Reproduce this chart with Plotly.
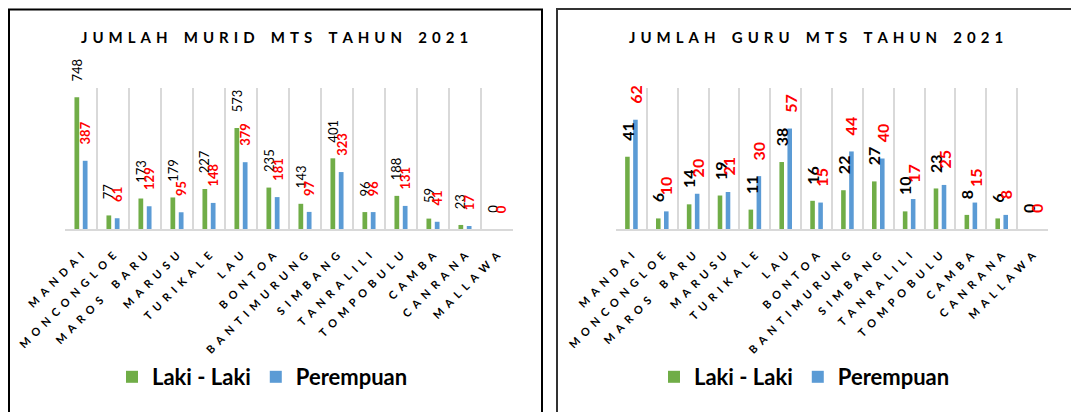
import plotly.graph_objects as go

# ---------------- data ----------------
categories = ["MANDAI", "MONCONGLOE", "MAROS BARU", "MARUSU", "TURIKALE", "LAU",
              "BONTOA", "BANTIMURUNG", "SIMBANG", "TANRALILI", "TOMPOBULU",
              "CAMBA", "CANRANA", "MALLAWA"]
murid_laki = [748, 77, 173, 179, 227, 573, 235, 143, 401, 96, 188, 59, 23, 0]
murid_perempuan = [387, 61, 129, 95, 148, 379, 181, 97, 323, 96, 131, 41, 17, 0]
guru_laki = [41, 6, 14, 19, 11, 38, 16, 22, 27, 10, 23, 8, 6, 0]
guru_perempuan = [62, 10, 20, 21, 30, 57, 15, 44, 40, 17, 25, 15, 8, 0]
series_names = ["Laki - Laki", "Perempuan"]
main_title = "Diagram Jumlah Murid dan Guru MTs di Kab. Maros Menurut Kecamatan Tahun 2021"
title_murid = "JUMLAH MURID MTS TAHUN 2021"
title_guru = "JUMLAH GURU MTS TAHUN 2021"

# ---------------- style ----------------
PAGE_OFF = 8            # page body offset of the figure
FW, FH = 1079 - PAGE_OFF, 412 - PAGE_OFF
GREEN = "#70AD47"
BLUE = "#5B9BD5"
RED = "#FF0000"
GRID = "#D9D9D9"
BARGAP = 0.48
BARGROUPGAP = 0.43
OFF = (1 - BARGAP) / 4  # slot centre offset in category units


def spaced(s, letter_sp, word_sp):
    return word_sp.join(letter_sp.join(w) for w in s.split(" "))


def px_x(p):
    return (p - PAGE_OFF) / FW


def px_y(p):
    return 1 - (p - PAGE_OFF) / FH


tick_text = [spaced(c, "\u2002", "\u2002\u2002\u2002") for c in categories]

fig = go.Figure()

panels = [
    dict(xa="x", ya="y", laki=murid_laki, per=murid_perempuan, legend="legend",
         lblsize=13, blackweight="normal"),
    dict(xa="x2", ya="y2", laki=guru_laki, per=guru_perempuan, legend="legend2",
         lblsize=16, blackweight="bold"),
]

annotations = []
for p in panels:
    for name, vals, col in [(series_names[0], p["laki"], GREEN),
                            (series_names[1], p["per"], BLUE)]:
        fig.add_trace(go.Bar(
            x=categories, y=vals, name=name, marker=dict(color=col, line=dict(width=0)),
            xaxis=p["xa"], yaxis=p["ya"], legend=p["legend"], hoverinfo="x+y",
        ))
    for i, (a, b) in enumerate(zip(p["laki"], p["per"])):
        annotations.append(dict(
            x=i - OFF, y=a, xref=p["xa"], yref=p["ya"], text=str(a), textangle=-90,
            showarrow=False, yanchor="bottom", xanchor="center", yshift=14,
            font=dict(family="Lato", size=p["lblsize"], color="#000000",
                      weight=p["blackweight"])))
        annotations.append(dict(
            x=i + OFF, y=b, xref=p["xa"], yref=p["ya"], text=str(b), textangle=-90,
            showarrow=False, yanchor="bottom", xanchor="center", yshift=14,
            font=dict(family="Lato", size=p["lblsize"], color=RED, weight="bold")))

# titles
annotations.append(dict(
    x=px_x(540), y=px_y(11), xref="paper", yref="paper", text=main_title, showarrow=False,
    yanchor="bottom", xanchor="center",
    font=dict(family="Liberation Sans", size=26, color="#000000")))
for txt, cx in [(title_murid, 274), (title_guru, 816)]:
    annotations.append(dict(
        x=px_x(cx), y=px_y(37), xref="paper", yref="paper",
        text=spaced(txt, "\u2004", "\u2003\u2004"), showarrow=False,
        yanchor="middle", xanchor="center",
        font=dict(family="Lato", size=15, color="#000000", weight="bold")))

xaxis_common = dict(
    type="category", categoryorder="array", categoryarray=categories,
    tickmode="array", tickvals=categories, ticktext=tick_text,
    tickangle=-45, tickson="boundaries", ticks="", ticklabelstandoff=14,
    showgrid=True, gridcolor=GRID, gridwidth=2,
    showline=True, linecolor=GRID, linewidth=2, automargin=False,
    tickfont=dict(family="Lato", size=11, color="#000000", weight="bold"),
    range=[-0.5, 13.5], fixedrange=True, zeroline=False,
)
yaxis_common = dict(visible=False, showgrid=False, zeroline=False, fixedrange=True,
                    automargin=False)

ydom = [px_y(229), px_y(88)]
legend_font = dict(family="Lato", size=22, color="#000000", weight="bold")

fig.update_layout(
    width=FW, height=FH, margin=dict(l=0, r=0, t=0, b=0, autoexpand=False),
    paper_bgcolor="white", plot_bgcolor="white",
    barmode="group", bargap=BARGAP, bargroupgap=BARGROUPGAP,
    xaxis=dict(domain=[px_x(65), px_x(513)], anchor="y", **xaxis_common),
    xaxis2=dict(domain=[px_x(616), px_x(1048)], anchor="y2", **xaxis_common),
    yaxis=dict(domain=ydom, anchor="x", range=[0, 800], **yaxis_common),
    yaxis2=dict(domain=ydom, anchor="x2", range=[0, 80], **yaxis_common),
    legend=dict(orientation="h", x=px_x(112), y=px_y(377), xanchor="left", yanchor="middle",
                font=legend_font, bgcolor="rgba(0,0,0,0)"),
    legend2=dict(orientation="h", x=px_x(654), y=px_y(377), xanchor="left", yanchor="middle",
                 font=legend_font, bgcolor="rgba(0,0,0,0)"),
    annotations=annotations,
    shapes=[
        dict(type="rect", xref="paper", yref="paper", x0=px_x(9), x1=px_x(542),
             y0=px_y(430), y1=px_y(9.5), line=dict(color="#000000", width=2)),
        dict(type="rect", xref="paper", yref="paper", x0=px_x(557), x1=px_x(1077),
             y0=px_y(430), y1=px_y(9), line=dict(color="#333333", width=2)),
    ],
    showlegend=True,
)

fig.write_html("out.html")
